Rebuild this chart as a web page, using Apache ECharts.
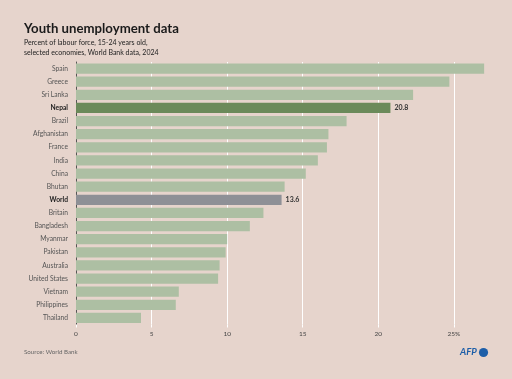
<!DOCTYPE html>
<html><head><meta charset="utf-8">
<script src="https://cdn.jsdelivr.net/npm/echarts@6/dist/echarts.min.js"></script>
<style>html,body{margin:0;padding:0;background:#e6d4cc;}#c{width:512px;height:379px;}</style>
</head><body><div id="c"></div>
<script>
var categories = ["Spain","Greece","Sri Lanka","Nepal","Brazil","Afghanistan","France","India","China","Bhutan","World","Britain","Bangladesh","Myanmar","Pakistan","Australia","United States","Vietnam","Philippines","Thailand"];
var values = [27.0,24.7,22.3,20.8,17.9,16.7,16.6,16.0,15.2,13.8,13.6,12.4,11.5,10.0,9.9,9.5,9.4,6.8,6.6,4.3];
var highlighted = ["Nepal","World"];
var labelled = ["Nepal","World"];
var xTicks = [0,5,10,15,20,25];

var FONT = "Lato";
var colors = {Nepal:"#6b8a5a", World:"#8e9096"};
var data = categories.map(function(c,i){
  var d = {value: values[i], itemStyle:{color: colors[c] || "#adbfa3"}};
  if (labelled.indexOf(c) >= 0) {
    d.label = {show:true, position:"right", distance:4, formatter: function(p){return p.value.toFixed(1);},
      fontFamily:FONT, fontSize:7, fontWeight:"bold", color:"#333"};
  }
  return d;
});
var chart = echarts.init(document.getElementById('c'), null, {renderer:'canvas'});
chart.setOption({
  backgroundColor:"#e6d4cc",
  animation:false,
  grid:{left:76, right:20.3, top:62, height:262.5},
  title:[
    {text:"Youth unemployment data", left:24, top:22, padding:0, textStyle:{fontFamily:FONT, fontSize:13.2, fontWeight:"bold", color:"#1a1a1a"}},
    {text:"Percent of labour force, 15-24 years old,\nselected economies, World Bank data, 2024", left:24, top:38, padding:0,
     textStyle:{fontFamily:FONT, fontSize:7, fontWeight:"normal", color:"#222", lineHeight:9.5}},
    {text:"Source: World Bank", left:24, top:349, padding:0, textStyle:{fontFamily:FONT, fontSize:6.2, fontWeight:"normal", color:"#666"}}
  ],
  xAxis:{type:"value", min:0, max:27.5, interval:5,
    axisLine:{show:false},
    axisTick:{show:true, length:3, lineStyle:{color:"#ffffff"}},
    splitLine:{show:true, showMaxLine:false, lineStyle:{color:"#ffffff", width:1}},
    axisLabel:{showMaxLabel:false, margin:6, fontFamily:FONT, fontSize:6.5, color:"#444",
      formatter:function(v){ if (xTicks.indexOf(v)<0) return ""; return v===25 ? "25%" : String(v);} }
  },
  yAxis:{type:"category", data:categories, inverse:true,
    axisLine:{show:true, lineStyle:{color:"#555", width:1}},
    axisTick:{show:false},
    axisLabel:{margin:8, fontFamily:FONT, fontSize:6.7, color:"#555",
      formatter:function(v){ return highlighted.indexOf(v)>=0 ? "{b|"+v+"}" : v; },
      rich:{b:{fontFamily:FONT, fontSize:6.7, fontWeight:"bold", color:"#222"}}}
  },
  series:[{type:"bar", data:data, barCategoryGap:"22%", z:3}],
  graphic:[
    {type:"text", left:460, top:347, style:{text:"AFP", font:"italic bold 9.5px "+FONT, fill:"#1d5ea8"}},
    {type:"circle", shape:{cx:483.5, cy:352.5, r:4.6}, style:{fill:"#1d5ea8"}}
  ]
});
</script></body></html>
